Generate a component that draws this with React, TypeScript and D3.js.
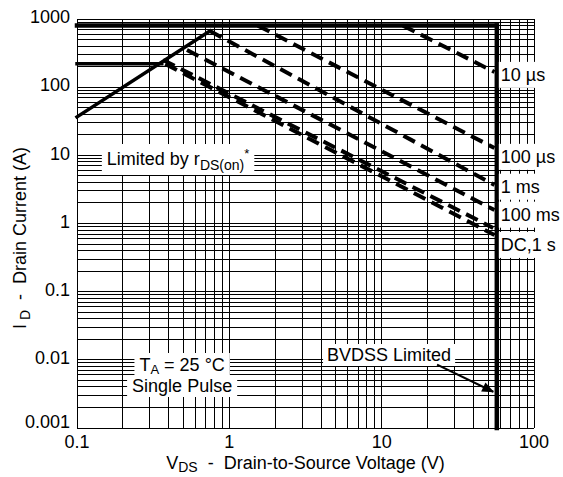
import React, { useLayoutEffect, useRef, useState } from 'react';
import * as d3 from 'd3';

const W = 563;
const H = 477;
const margin = { top: 19, right: 29, bottom: 49, left: 77 };
const FONT = '"Liberation Sans", Arial, Helvetica, sans-serif';

// axis ticks
const xTickValues = [0.1, 1, 10, 100];
const xTickLabels = ['0.1', '1', '10', '100'];
const yTickValues = [0.001, 0.01, 0.1, 1, 10, 100, 1000];
const yTickLabels = ['0.001', '0.01', '0.1', '1', '10', '100', '1000'];

// solid boundary lines (V, A)
const currentLimitV = [0.1, 57];
const currentLimitI = [800, 800];
const bvdssV = [57, 57];
const bvdssI = [0.001, 800];
const rdsV = [0.1, 0.746];
const rdsI = [36.6, 667];
const flatV = [0.1, 0.36];
const flatI = [220, 220];

// dashed pulse lines
const pulseNames = ['10 µs', '100 µs', '1 ms', '100 ms', '1 s', 'DC'];
const pulseStartV = [13.8, 1.54, 0.746, 0.527, 0.367, 0.38];
const pulseStartI = [800, 800, 667, 351, 251, 219];
const pulseEndV = [55, 55, 55, 55, 54, 55];
const pulseEndI = [167, 12.8, 3.68, 1.58, 0.86, 0.68];

// labels at the right of the plot
const rightLabels = ['10 µs', '100 µs', '1 ms', '100 ms', 'DC,1 s'];
const rightLabelI = [153, 9.6, 3.5, 1.36, 0.49];

// BVDSS arrow (V, A)
const arrowV = [23.1, 54];
const arrowI = [0.0085, 0.0034];

type BoxProps = {
    x: number;
    y: number;
    padX?: number;
    padY?: number;
    anchor?: 'start' | 'middle' | 'end';
    children: React.ReactNode;
};

const BoxedText: React.FC<BoxProps> = ({ x, y, padX = 4, padY = 2, anchor = 'start', children }) => {
    const textRef = useRef<SVGTextElement | null>(null);
    const [box, setBox] = useState<{ x: number; y: number; w: number; h: number } | null>(null);

    useLayoutEffect(() => {
        if (!textRef.current) return;
        const b = textRef.current.getBBox();
        setBox({ x: b.x - padX, y: b.y - padY, w: b.width + padX * 2, h: b.height + padY * 2 });
    }, [x, y]);

    return (
        <g>
            {box && <rect x={box.x} y={box.y} width={box.w} height={box.h} fill="#fff" />}
            <text ref={textRef} x={x} y={y} textAnchor={anchor} fontSize={18} style={{ whiteSpace: 'pre' }}>
                {children}
            </text>
        </g>
    );
};

const App: React.FC = () => {
    const xScale = d3.scaleLog().domain([0.1, 100]).range([margin.left, W - margin.right]);
    const yScale = d3.scaleLog().domain([0.001, 1000]).range([H - margin.bottom, margin.top]);

    const line = d3.line<[number, number]>()
        .x(d => xScale(d[0]))
        .y(d => yScale(d[1]));

    const pairs = (vs: number[], is: number[]) => vs.map((v, i) => [v, is[i]] as [number, number]);

    const xGrid = xScale.ticks();
    const yGrid = yScale.ticks();

    const [x0, x1] = xScale.range();
    const [y0, y1] = yScale.range();

    return (
        <svg width={W} height={H} style={{ position: 'absolute', left: 0, top: 0, fontFamily: FONT }}>
            <defs>
                <marker id="arrowHead" viewBox="0 0 12 10" refX="11" refY="5" markerWidth="7" markerHeight="5"
                        orient="auto" markerUnits="strokeWidth">
                    <path d="M0,0 L12,5 L0,10 z" fill="#000" />
                </marker>
            </defs>
            <rect width={W} height={H} fill="#fff" />

            {/* grid */}
            <g stroke="#000" strokeWidth={1} shapeRendering="crispEdges">
                {xGrid.map((v, i) => (
                    <line key={'gx' + i} x1={xScale(v)} x2={xScale(v)} y1={y1} y2={y0} />
                ))}
                {yGrid.map((v, i) => (
                    <line key={'gy' + i} x1={x0} x2={x1} y1={yScale(v)} y2={yScale(v)} />
                ))}
            </g>

            {/* tick labels */}
            <g fontSize={18} fill="#000">
                {yTickValues.map((v, i) => (
                    <text key={'yt' + i} x={x0 - 7} y={yScale(v) - (i === 0 ? 6 : 2)} dy="0.35em" textAnchor="end">
                        {yTickLabels[i]}
                    </text>
                ))}
                {xTickValues.map((v, i) => (
                    <text key={'xt' + i} x={xScale(v)} y={y0 + 20} textAnchor="middle">
                        {xTickLabels[i]}
                    </text>
                ))}
            </g>

            {/* axis titles */}
            <text x={(x0 + x1) / 2} y={469} textAnchor="middle" fontSize={18} style={{ whiteSpace: 'pre' }}>
                V<tspan fontSize={14} dy={3}>DS</tspan><tspan dy={-3}>  -  Drain-to-Source Voltage (V)</tspan>
            </text>
            <text transform="translate(26,238) rotate(-90)" textAnchor="middle" fontSize={18} style={{ whiteSpace: 'pre' }}>
                I<tspan fontSize={14} dy={4}> D</tspan><tspan dy={-4}>  -  Drain Current (A)</tspan>
            </text>

            {/* boundaries */}
            <g fill="none" stroke="#000" strokeLinecap="square">
                <path d={line(pairs(currentLimitV, currentLimitI)) || ''} strokeWidth={4.5} />
                <path d={line(pairs(bvdssV, bvdssI)) || ''} strokeWidth={4.5} />
                <path d={line(pairs(rdsV, rdsI)) || ''} strokeWidth={3.5} />
                <path d={line(pairs(flatV, flatI)) || ''} strokeWidth={3.5} />
            </g>

            {/* pulse lines */}
            <g fill="none" stroke="#000" strokeWidth={4} strokeDasharray="13,7">
                {pulseNames.map((name, i) => (
                    <path key={name}
                          d={line([[pulseStartV[i], pulseStartI[i]], [pulseEndV[i], pulseEndI[i]]]) || ''} />
                ))}
            </g>

            {/* right labels */}
            {rightLabels.map((t, i) => (
                <BoxedText key={t} x={xScale(57) + 4} y={yScale(rightLabelI[i]) + 6.3} padX={2} padY={3}>
                    {t}
                </BoxedText>
            ))}

            {/* annotations */}
            <BoxedText x={xScale(0.157)} y={165} padX={5} padY={2}>
                Limited by r<tspan fontSize={14} dy={5}>DS(on)</tspan><tspan fontSize={13} dy={-12}>*</tspan>
            </BoxedText>

            <g>
                <BoxedText x={xScale(0.49)} y={371} anchor="middle" padX={5} padY={2}>
                    T<tspan fontSize={13} dy={3}>A</tspan><tspan dy={-3}> = 25 °C</tspan>
                </BoxedText>
                <BoxedText x={xScale(0.49)} y={392} anchor="middle" padX={5} padY={1}>
                    Single Pulse
                </BoxedText>
            </g>

            <BoxedText x={xScale(4.38)} y={361} padX={4} padY={1}>
                BVDSS Limited
            </BoxedText>
            <path d={line(pairs(arrowV, arrowI)) || ''} stroke="#000" strokeWidth={2} fill="none"
                  markerEnd="url(#arrowHead)" />
        </svg>
    );
};

export default App;
